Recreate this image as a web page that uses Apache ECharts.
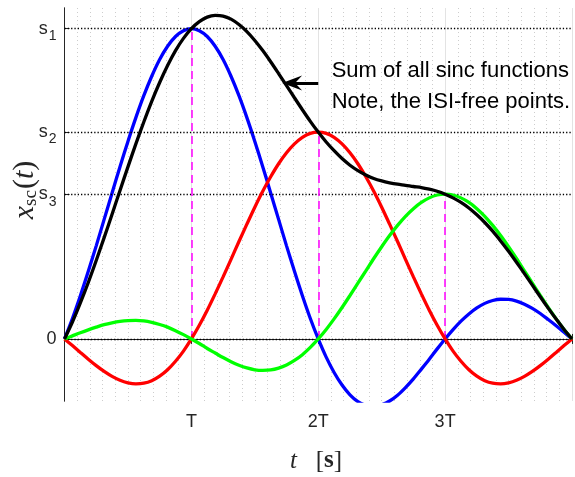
<!DOCTYPE html>
<html>
<head>
<meta charset="utf-8">
<script src="https://cdn.jsdelivr.net/npm/echarts@6/dist/echarts.min.js"></script>
<style>
  html, body { margin: 0; padding: 0; background: #fff; }
  #chart { width: 575px; height: 477px; }
</style>
</head>
<body>
<div id="chart"></div>
<script>
// Sample instants, in units of the symbol period T (step T/16)
const tSamples = [
  0, 0.0625, 0.125, 0.1875, 0.25, 0.3125, 0.375, 0.4375,
  0.5, 0.5625, 0.625, 0.6875, 0.75, 0.8125, 0.875, 0.9375,
  1, 1.0625, 1.125, 1.1875, 1.25, 1.3125, 1.375, 1.4375,
  1.5, 1.5625, 1.625, 1.6875, 1.75, 1.8125, 1.875, 1.9375,
  2, 2.0625, 2.125, 2.1875, 2.25, 2.3125, 2.375, 2.4375,
  2.5, 2.5625, 2.625, 2.6875, 2.75, 2.8125, 2.875, 2.9375,
  3, 3.0625, 3.125, 3.1875, 3.25, 3.3125, 3.375, 3.4375,
  3.5, 3.5625, 3.625, 3.6875, 3.75, 3.8125, 3.875, 3.9375, 4];

// Pulse centred at T (amplitude s1)
const pulse1 = [
  0, 0.099, 0.209, 0.327, 0.450, 0.578, 0.706, 0.833,
  0.955, 1.070, 1.176, 1.270, 1.351, 1.415, 1.462, 1.490,
  1.5, 1.490, 1.462, 1.415, 1.351, 1.270, 1.176, 1.070,
  0.955, 0.833, 0.706, 0.578, 0.450, 0.327, 0.209, 0.099,
  0, -0.088, -0.162, -0.223, -0.270, -0.303, -0.321, -0.326,
  -0.318, -0.300, -0.272, -0.235, -0.193, -0.146, -0.098, -0.048,
  0, 0.045, 0.086, 0.121, 0.150, 0.172, 0.186, 0.192,
  0.191, 0.183, 0.168, 0.148, 0.123, 0.094, 0.064, 0.032, 0];

// Pulse centred at 2T (amplitude s2)
const pulse2 = [
  0, -0.032, -0.065, -0.098, -0.129, -0.157, -0.181, -0.200,
  -0.212, -0.217, -0.214, -0.202, -0.180, -0.149, -0.108, -0.059,
  0, 0.066, 0.139, 0.218, 0.300, 0.385, 0.471, 0.555,
  0.637, 0.714, 0.784, 0.847, 0.900, 0.943, 0.975, 0.994,
  1, 0.994, 0.975, 0.943, 0.900, 0.847, 0.784, 0.714,
  0.637, 0.555, 0.471, 0.385, 0.300, 0.218, 0.139, 0.066,
  0, -0.059, -0.108, -0.149, -0.180, -0.202, -0.214, -0.217,
  -0.212, -0.200, -0.181, -0.157, -0.129, -0.098, -0.065, -0.032, 0];

// Pulse centred at 3T (amplitude s3)
const pulse3 = [
  0, 0.015, 0.030, 0.044, 0.057, 0.069, 0.078, 0.085,
  0.089, 0.090, 0.087, 0.080, 0.070, 0.057, 0.040, 0.021,
  0, -0.022, -0.046, -0.068, -0.090, -0.110, -0.127, -0.140,
  -0.149, -0.152, -0.150, -0.141, -0.126, -0.104, -0.076, -0.041,
  0, 0.046, 0.097, 0.152, 0.210, 0.270, 0.329, 0.389,
  0.446, 0.500, 0.549, 0.593, 0.630, 0.660, 0.682, 0.696,
  0.7, 0.696, 0.682, 0.660, 0.630, 0.593, 0.549, 0.500,
  0.446, 0.389, 0.329, 0.270, 0.210, 0.152, 0.097, 0.046, 0];

// Superposition of the three pulses
const pulseSum = [
  0, 0.082, 0.174, 0.273, 0.379, 0.490, 0.603, 0.718,
  0.832, 0.943, 1.049, 1.149, 1.240, 1.322, 1.394, 1.453,
  1.5, 1.534, 1.556, 1.564, 1.561, 1.546, 1.520, 1.486,
  1.443, 1.394, 1.340, 1.283, 1.225, 1.166, 1.108, 1.052,
  1, 0.952, 0.910, 0.872, 0.840, 0.814, 0.793, 0.776,
  0.764, 0.755, 0.748, 0.743, 0.737, 0.732, 0.724, 0.714,
  0.7, 0.682, 0.660, 0.633, 0.600, 0.563, 0.521, 0.474,
  0.424, 0.371, 0.316, 0.260, 0.204, 0.149, 0.096, 0.046, 0];

// Symbol instants and their amplitudes
const peakTimes = [1, 2, 3];
const peakValues = [1.5, 1.0, 0.7];

// Y tick positions and their labels
const levelValues = [0, 0.7, 1.0, 1.5];
const levelLabels = ['0', 's3', 's2', 's1'];

// X tick labels
const timeTicks = [1, 2, 3];
const timeLabels = ['T', '2T', '3T'];

// Annotation (data units)
const noteArrowFrom = [2.0, 1.238];
const noteArrowHead = [1.794, 1.238];
const noteTextAt = [2.106, 1.222];
const noteText = 'Sum of all sinc functions\nNote, the ISI-free points.';

const SANS = '"Liberation Sans", Arial, Helvetica, sans-serif';
const SERIF = '"Liberation Serif", "Times New Roman", serif';
const AXIS_COLOR = '#262626';

const pairs = (ys) => tSamples.map((t, i) => [t, ys[i]]);

const chart = echarts.init(document.getElementById('chart'), null, { renderer: 'canvas' });

const curve = (name, ys, color, z) => ({
  name, type: 'line', data: pairs(ys), smooth: 0.3, showSymbol: false,
  lineStyle: { color, width: 3.3 }, z, animation: false, silent: true
});

const option = {
  animation: false,
  grid: { left: 64.5, right: 1, top: 8, bottom: 76, containLabel: false },
  xAxis: [{
    type: 'value', min: 0, max: 4, interval: 1,
    axisLine: { show: true, lineStyle: { color: AXIS_COLOR, width: 1 } },
    axisTick: { show: true, inside: true, length: 5, lineStyle: { color: AXIS_COLOR } },
    axisLabel: {
      color: AXIS_COLOR, fontSize: 18, fontFamily: SANS, margin: 12,
      formatter: (v) => { const k = timeTicks.indexOf(v); return k >= 0 ? timeLabels[k] : ''; }
    },
    splitLine: { show: true, lineStyle: { color: '#e3e3e3', width: 1 } },
    minorTick: { show: false, splitNumber: 10 },
    minorSplitLine: { show: true, lineStyle: { color: '#cdcdcd', width: 1, type: [1, 3] } }
  }, {
    type: 'value', position: 'top', min: 0, max: 4, interval: 1,
    axisLine: { show: true, lineStyle: { color: AXIS_COLOR, width: 1 } },
    axisTick: { show: true, inside: true, length: 5, lineStyle: { color: AXIS_COLOR } },
    axisLabel: { show: false }, splitLine: { show: false }
  }],
  yAxis: [{
    type: 'value', min: -0.3, max: 1.6,
    axisLine: { show: true, lineStyle: { color: AXIS_COLOR, width: 1 } },
    axisTick: { show: true, inside: true, length: 5, customValues: levelValues, lineStyle: { color: AXIS_COLOR } },
    axisLabel: {
      customValues: levelValues, margin: 8, color: AXIS_COLOR,
      formatter: (v) => {
        const k = levelValues.indexOf(v);
        const lab = k >= 0 ? levelLabels[k] : '';
        return lab.length > 1 ? '{s|' + lab[0] + '}{sub|' + lab.slice(1) + '}' : '{s|' + lab + '}';
      },
      rich: {
        s: { fontSize: 18, fontFamily: SANS, color: AXIS_COLOR },
        sub: { fontSize: 14, fontFamily: SANS, color: AXIS_COLOR, padding: [15, 0, 0, 1] }
      }
    },
    splitLine: { show: false }
  }, {
    type: 'value', position: 'right', min: -0.3, max: 1.6,
    axisLine: { show: true, lineStyle: { color: AXIS_COLOR, width: 1 } },
    axisTick: { show: false }, axisLabel: { show: false }, splitLine: { show: false }
  }],
  series: [
    {
      name: 'levels', type: 'line', data: [], z: 2, silent: true,
      markLine: {
        silent: true, symbol: 'none', label: { show: false }, animation: false,
        lineStyle: { color: '#000', width: 1.3, type: [1.3, 2] },
        data: levelValues.map((v) => ({ yAxis: v }))
      }
    },
    {
      name: 'samples', type: 'line', data: [], z: 3, silent: true,
      markLine: {
        silent: true, symbol: 'none', label: { show: false }, animation: false,
        lineStyle: { color: '#ff00ff', width: 1.5, type: [8, 5] },
        data: peakTimes.map((t, i) => [{ coord: [t, 0] }, { coord: [t, peakValues[i]] }])
      }
    },
    curve('pulse1', pulse1, '#0000ff', 4),
    curve('pulse2', pulse2, '#ff0000', 5),
    curve('pulse3', pulse3, '#00ff00', 6),
    curve('sum', pulseSum, '#000000', 7),
    {
      name: 'note', type: 'line', data: [], z: 8, silent: true,
      markLine: {
        silent: true, label: { show: false }, animation: false,
        lineStyle: { color: '#000', width: 3, type: 'solid' },
        data: [[
          { coord: noteArrowFrom, symbol: 'none' },
          { coord: noteArrowHead, symbol: 'path://M6,0 L12,20 L6,13 L0,20 Z', symbolSize: [15, 20] }
        ]]
      }
    }
  ]
};
chart.setOption(option);

// Axis titles and the annotation text
const notePx = chart.convertToPixel({ gridIndex: 0 }, noteTextAt);
chart.setOption({
  graphic: [
    {
      type: 'text', x: 25, y: 190, rotation: Math.PI / 2, z: 10,
      style: {
        text: '{i|x}{sub|sc}{r|(}{i|t}{r|)}', align: 'center', verticalAlign: 'middle',
        rich: {
          i: { fontFamily: SERIF, fontStyle: 'italic', fontSize: 30, fill: AXIS_COLOR },
          r: { fontFamily: SERIF, fontSize: 30, fill: AXIS_COLOR },
          sub: { fontFamily: SERIF, fontSize: 19, fill: AXIS_COLOR, padding: [12, 1, 0, 0] }
        }
      }
    },
    {
      type: 'text', x: 316, y: 461, z: 10,
      style: {
        text: '{i|t}{r|   [}{b|s}{r|]}', align: 'center', verticalAlign: 'middle',
        rich: {
          i: { fontFamily: SERIF, fontStyle: 'italic', fontSize: 25, fill: AXIS_COLOR },
          r: { fontFamily: SERIF, fontSize: 25, fill: AXIS_COLOR },
          b: { fontFamily: SERIF, fontWeight: 'bold', fontSize: 25, fill: AXIS_COLOR }
        }
      }
    },
    {
      type: 'text', x: notePx[0], y: notePx[1], z: 10,
      style: {
        text: noteText, align: 'left', verticalAlign: 'middle',
        font: '22px ' + SANS, lineHeight: 31, fill: '#000'
      }
    }
  ]
});
</script>
</body>
</html>
